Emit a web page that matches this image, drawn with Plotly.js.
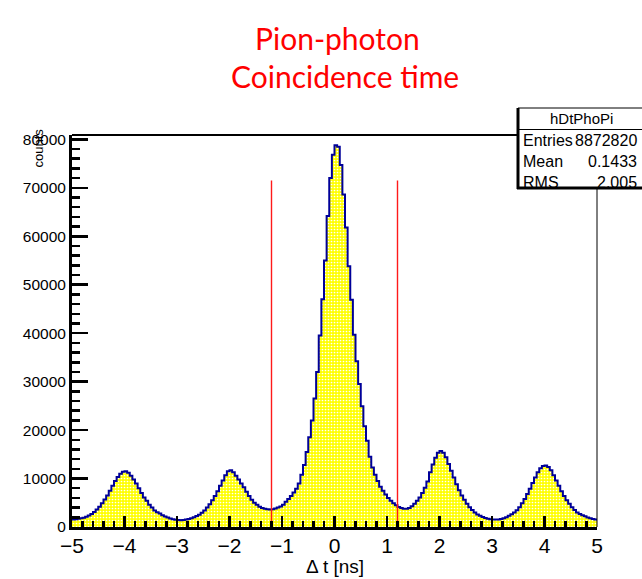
<!DOCTYPE html>
<html>
<head>
<meta charset="utf-8">
<script src="https://cdn.plot.ly/plotly-3.0.1.min.js"></script>
<style>html,body{margin:0;padding:0;background:#fff;}#chart{width:642px;height:579px;}</style>
</head>
<body>
<div id="chart"></div>
<script>
// Histogram hDtPhoPi: bins of 0.05 ns from -5 to 5 ns
const binStart = -5;
const binWidth = 0.05;
const countsM5toM4 = [1550,1600,1700,1800,1900,2100,2350,2700,3100,3600,4200,4900,5700,6500,7500,8500,9500,10300,11000,11400];
const countsM4toM3 = [11500,11200,10600,9800,9000,8000,7000,6100,5400,4600,4000,3400,3050,2800,2450,2150,1950,1750,1600,1500];
const countsM3toM2 = [1450,1400,1450,1550,1650,1800,2000,2250,2550,2950,3400,4000,4700,5500,6400,7400,8500,9600,10700,11500];
const countsM2toM1 = [11700,11300,10600,9800,9000,8200,7300,6400,5600,5000,4600,4200,3900,3750,3650,3600,3650,3800,4000,4250];
const countsM1to0  = [4600,5200,5800,6400,7100,7900,9000,10800,12800,15500,18500,22000,26500,32000,39500,47000,55000,64200,72000,76800];
const counts0to1   = [78800,78500,74700,68600,61800,53800,46900,39700,34200,29500,24900,20800,17800,14500,12300,10800,9500,8300,7500,6700];
const counts1to2   = [6000,5400,4900,4500,4150,3900,3750,3750,3900,4300,4800,5400,6100,7000,8100,9400,11300,12900,14300,15300];
const counts2to3   = [15700,15300,14400,13000,11600,10200,8800,7600,6500,5600,4800,4100,3500,3000,2600,2300,2050,1850,1700,1600];
const counts3to4   = [1550,1530,1550,1650,1800,2000,2300,2650,3000,3450,4100,4900,5800,6800,7900,9100,10200,11300,12100,12600];
const counts4to5   = [12700,12400,11700,10700,9600,8500,7400,6400,5500,4800,4100,3500,3000,2700,2450,2200,1950,1800,1650,1550];

// Cut lines
const cutPositions = [-1.2, 1.2];
const cutHeight = 71500;

// Titles
const titleLines = ['Pion-photon', 'Coincidence time'];
const xAxisTitle = 'Δ t [ns]';
const yAxisTitle = 'counts';

// Stats box
const histName = 'hDtPhoPi';
const statLabels = ['Entries', 'Mean', 'RMS'];
const statValues = ['8872820', '0.1433', '2.005'];

// Axis ticks
const xTickVals = [-5,-4,-3,-2,-1,0,1,2,3,4,5];
const yTickVals = [0,10000,20000,30000,40000,50000,60000,70000,80000];

const counts = [].concat(countsM5toM4, countsM4toM3, countsM3toM2, countsM2toM1, countsM1to0,
                         counts0to1, counts1to2, counts2to3, counts3to4, counts4to5);
const edges = [];
for (let i = 0; i <= counts.length; i++) edges.push(+(binStart + i * binWidth).toFixed(4));
const stepY = counts.concat([counts[counts.length - 1]]);

const traces = [{
  type: 'scatter', mode: 'lines',
  x: edges, y: stepY,
  line: {shape: 'hv', color: '#000099', width: 2},
  fill: 'tozeroy',
  fillcolor: '#ffff00',
  fillpattern: {shape: '.', fgcolor: '#ffffff', bgcolor: '#ffff00', size: 3, solidity: 0.25, fillmode: 'replace'},
  hoverinfo: 'x+y', showlegend: false
}];
cutPositions.forEach(c => traces.push({
  type: 'scatter', mode: 'lines', x: [c, c], y: [0, cutHeight],
  line: {color: '#ff1a1a', width: 1.4}, showlegend: false, hoverinfo: 'skip'
}));

const L = 72, R = 597, T = 135, B = 527;
const W = R - L, H = B - T;
const px = v => (v - L) / W;
const py = v => (B - v) / H;

const font = 'Liberation Sans, Arial, Helvetica, sans-serif';
const titleFont = {family: 'Lato, Open Sans, sans-serif', size: 30, color: '#ff0000'};
const annotations = [];
// two-line red title
annotations.push({xref: 'paper', yref: 'paper', x: px(337), y: py(38), xanchor: 'center', yanchor: 'middle',
  text: titleLines[0], showarrow: false, font: titleFont});
annotations.push({xref: 'paper', yref: 'paper', x: px(345), y: py(76), xanchor: 'center', yanchor: 'middle',
  text: titleLines[1], showarrow: false, font: titleFont});
// y axis title, right-aligned to the top of the axis
annotations.push({xref: 'paper', yref: 'paper', x: px(38), y: py(127), xanchor: 'center', yanchor: 'top',
  text: yAxisTitle, textangle: -90, showarrow: false, font: {family: font, size: 13, color: '#000'}});
// x axis title
annotations.push({xref: 'paper', yref: 'paper', x: 0.5, y: py(566), xanchor: 'center', yanchor: 'middle',
  text: xAxisTitle, showarrow: false, font: {family: font, size: 19, color: '#000'}});
// stats box texts
annotations.push({xref: 'paper', yref: 'paper', x: px(581), y: py(119), xanchor: 'center', yanchor: 'middle',
  text: histName, showarrow: false, font: {family: font, size: 15, color: '#000'}});
statLabels.forEach((lab, i) => {
  const yy = 140 + i * 21;
  annotations.push({xref: 'paper', yref: 'paper', x: px(521), y: py(yy), xanchor: 'left', yanchor: 'middle',
    text: lab, showarrow: false, font: {family: font, size: 16, color: '#000'}});
  annotations.push({xref: 'paper', yref: 'paper', x: px(639), y: py(yy), xanchor: 'right', yanchor: 'middle',
    text: statValues[i], showarrow: false, font: {family: font, size: 16, color: '#000'}});
});

const shapes = [
  // frame right (thin) and top
  {type: 'line', xref: 'paper', yref: 'paper', x0: 1, x1: 1, y0: 0, y1: 1, line: {color: '#000', width: 1}},
  {type: 'line', xref: 'paper', yref: 'paper', x0: 0, x1: 1, y0: 1, y1: 1, line: {color: '#000', width: 2}},
  // stats box
  {type: 'rect', xref: 'paper', yref: 'paper', x0: px(518), x1: px(660), y0: py(188), y1: py(108),
    fillcolor: '#fff', line: {color: '#000', width: 1}},
  {type: 'line', xref: 'paper', yref: 'paper', x0: px(518), x1: px(660), y0: py(129.5), y1: py(129.5), line: {color: '#000', width: 1}},
  {type: 'line', xref: 'paper', yref: 'paper', x0: px(518), x1: px(518), y0: py(189), y1: py(108), line: {color: '#000', width: 3}},
  {type: 'line', xref: 'paper', yref: 'paper', x0: px(517), x1: px(660), y0: py(188), y1: py(188), line: {color: '#000', width: 3}}
];

const layout = {
  width: 642, height: 579,
  margin: {l: L, r: 642 - R, t: T, b: 579 - B, pad: 0},
  paper_bgcolor: '#fff', plot_bgcolor: '#fff',
  showlegend: false,
  xaxis: {
    range: [-5, 5], tickvals: xTickVals, ticks: 'inside', ticklen: 11, tickwidth: 2.5, tickcolor: '#000',
    showline: true, linecolor: '#000', linewidth: 3, showgrid: false, zeroline: false,
    tickfont: {family: font, size: 21, color: '#000'}, ticklabelstandoff: -2,
    minor: {dtick: 0.2, ticks: 'inside', ticklen: 6, tickwidth: 2.5, tickcolor: '#000', showgrid: false},
    fixedrange: true
  },
  yaxis: {
    range: [0, 80900], tickvals: yTickVals, tickformat: 'd', ticks: 'inside', ticklen: 16, tickwidth: 2.5, tickcolor: '#000',
    showline: true, linecolor: '#000', linewidth: 3, showgrid: false, zeroline: false,
    tickfont: {family: font, size: 15.5, color: '#000'},
    minor: {dtick: 2000, ticks: 'inside', ticklen: 8, tickwidth: 2.5, tickcolor: '#000', showgrid: false},
    fixedrange: true
  },
  annotations: annotations,
  shapes: shapes
};

Plotly.newPlot('chart', traces, layout, {displayModeBar: false, staticPlot: true});
</script>
</body>
</html>
